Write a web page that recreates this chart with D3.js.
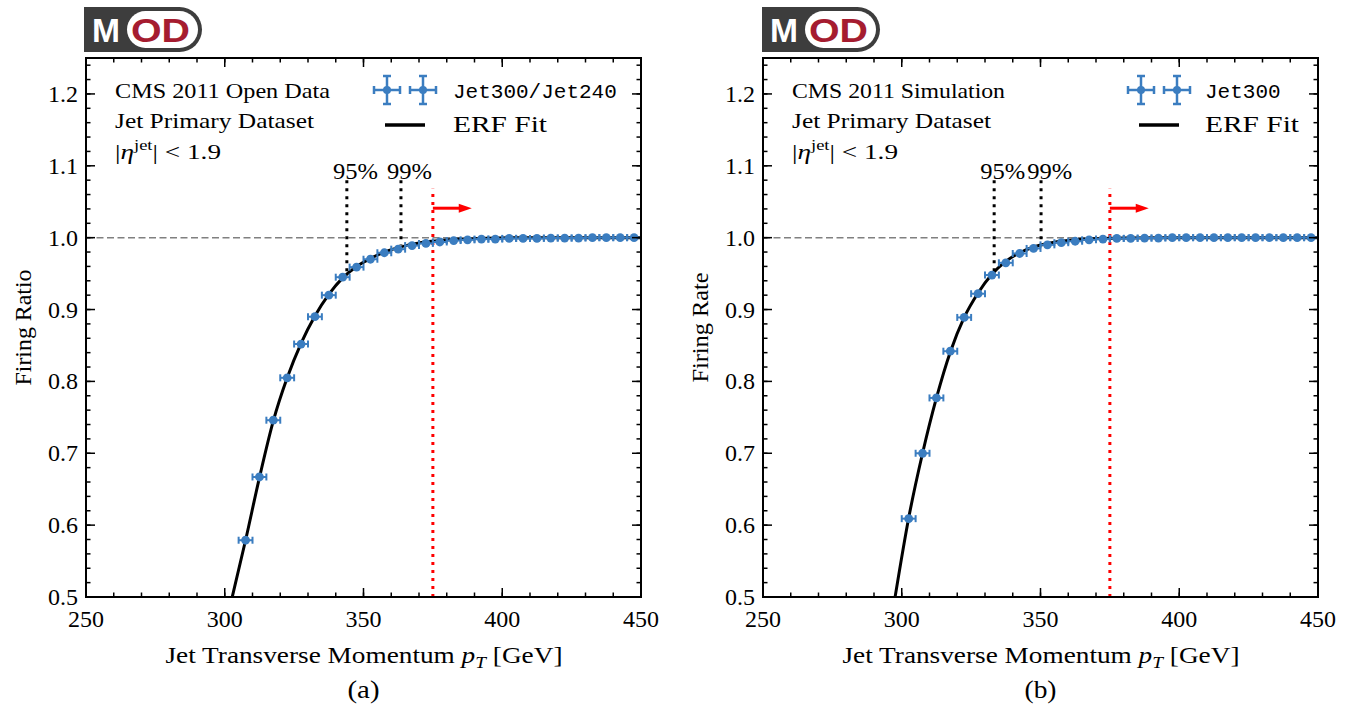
<!DOCTYPE html>
<html>
<head>
<meta charset="utf-8">
<script src="https://cdn.jsdelivr.net/npm/d3@7"></script>
<style>
  html, body { margin: 0; padding: 0; background: #fff; }
  svg { display: block; }
  text { font-family: "Liberation Serif", "Times New Roman", serif; fill: #000; }
</style>
</head>
<body>
<svg id="chart" width="1348" height="707"></svg>
<script>
// ---------------- data ----------------
const xTicks = [250, 300, 350, 400, 450];
const yTicks = [0.5, 0.6, 0.7, 0.8, 0.9, 1.0, 1.1, 1.2];
const xDomain = [250, 450];
const yDomain = [0.5, 1.25];
const binHalfWidth = 2.5;

// panel (a): Jet300/Jet240 in data
const binCentersA = [307.5, 312.5, 317.5, 322.5, 327.5, 332.5, 337.5, 342.5, 347.5, 352.5,
  357.5, 362.5, 367.5, 372.5, 377.5, 382.5, 387.5, 392.5, 397.5, 402.5,
  407.5, 412.5, 417.5, 422.5, 427.5, 432.5, 437.5, 442.5, 447.5];
const ratioA = [0.579, 0.667, 0.746, 0.805, 0.852, 0.890, 0.920, 0.945, 0.959, 0.970,
  0.979, 0.984, 0.989, 0.992, 0.994, 0.996, 0.997, 0.998, 0.998, 0.999,
  0.999, 0.999, 0.9995, 0.9995, 0.9995, 1.0, 1.0, 1.0, 1.0];
const fitXA = [302.7, 307.5, 312.5, 317.5, 322.5, 327.5, 332.5, 337.5, 342.5, 347.5, 352.5,
  357.5, 362.5, 367.5, 372.5, 377.5, 385, 395, 410, 450];
const fitYA = [0.5, 0.579, 0.666, 0.745, 0.805, 0.853, 0.891, 0.921, 0.944, 0.960, 0.971,
  0.980, 0.986, 0.991, 0.994, 0.996, 0.998, 0.9993, 1.0, 1.0];
const thresholdsA = [344.0, 363.5];

// panel (b): Jet300 in simulation
const binCentersB = [302.5, 307.5, 312.5, 317.5, 322.5, 327.5, 332.5, 337.5, 342.5, 347.5,
  352.5, 357.5, 362.5, 367.5, 372.5, 377.5, 382.5, 387.5, 392.5, 397.5,
  402.5, 407.5, 412.5, 417.5, 422.5, 427.5, 432.5, 437.5, 442.5, 447.5];
const rateB = [0.609, 0.700, 0.777, 0.842, 0.889, 0.922, 0.948, 0.965, 0.978, 0.985,
  0.990, 0.993, 0.995, 0.997, 0.998, 0.999, 0.999, 0.9995, 0.9995, 1.0,
  1.0, 1.0, 1.0, 1.0, 1.0, 1.0, 1.0, 1.0, 1.0, 1.0];
const fitXB = [297.6, 302.5, 307.5, 312.5, 317.5, 322.5, 327.5, 332.5, 337.5, 342.5, 347.5,
  352.5, 357.5, 362.5, 370, 380, 395, 450];
const fitYB = [0.5, 0.610, 0.700, 0.777, 0.841, 0.889, 0.923, 0.949, 0.967, 0.979, 0.987,
  0.992, 0.995, 0.997, 0.9985, 0.9995, 1.0, 1.0];
const thresholdsB = [333.3, 350.2];

const thresholdLabels = ["95%", "99%"];
const triggerCut = 375;
const arrowEnd = 389;

// ---------------- drawing ----------------
const svg = d3.select("#chart");
const BLUE = "#3b7dc0";
const RED = "#ff0000";

function fit(sel, len) {
  return sel.attr("textLength", len).attr("lengthAdjust", "spacingAndGlyphs");
}

function drawLogo(x0, y0) {
  const g = svg.append("g").attr("transform", `translate(${x0},${y0})`);
  const w = 118, h = 45, r = h / 2;
  g.append("path")
    .attr("d", `M0,0 H${w - r} A${r},${r} 0 0 1 ${w - r},${h} H0 Z`)
    .attr("fill", "#3d3d3d");
  const px = 43, py = 4, pw = 71, ph = 37, pr = ph / 2;
  g.append("rect").attr("x", px).attr("y", py).attr("width", pw).attr("height", ph)
    .attr("rx", pr).attr("ry", pr).attr("fill", "#fff");
  fit(g.append("text").attr("x", 8).attr("y", 35), 28)
    .style("font-family", "'Liberation Sans', Arial, sans-serif")
    .style("font-weight", "bold").style("font-size", "33px").style("fill", "#fff")
    .text("M");
  fit(g.append("text").attr("x", 47).attr("y", 35), 59)
    .style("font-family", "'Liberation Sans', Arial, sans-serif")
    .style("font-weight", "bold").style("font-size", "33px").style("fill", "#a51c30")
    .text("OD");
}

function drawPanel(cfg) {
  const left = cfg.left, right = cfg.left + 555, top = 58, bottom = 597;
  const x = d3.scaleLinear().domain(xDomain).range([left, right]);
  const y = d3.scaleLinear().domain(yDomain).range([bottom, top]);
  const g = svg.append("g");

  const clipId = "clip" + cfg.tag;
  svg.append("defs").append("clipPath").attr("id", clipId)
    .append("rect").attr("x", left).attr("y", top).attr("width", right - left).attr("height", bottom - top);

  const plot = g.append("g").attr("clip-path", `url(#${clipId})`);

  // dashed unity line
  plot.append("line")
    .attr("x1", left).attr("x2", right).attr("y1", y(1.0)).attr("y2", y(1.0))
    .attr("stroke", "#808080").attr("stroke-width", 1.5).attr("stroke-dasharray", "7,3.5");

  // threshold lines
  cfg.thresholds.forEach((t, i) => {
    plot.append("line")
      .attr("x1", x(t)).attr("x2", x(t))
      .attr("y1", y(1.08)).attr("y2", y(i === 0 ? 0.95 : 0.99))
      .attr("stroke", "#000").attr("stroke-width", 3).attr("stroke-dasharray", "3,5");
    fit(g.append("text")
      .attr("x", x(t - 5)).attr("y", y(1.082))
      .style("font-size", "23px"), 45)
      .text(thresholdLabels[i]);
  });

  // trigger cut line
  plot.append("line")
    .attr("x1", x(triggerCut)).attr("x2", x(triggerCut))
    .attr("y1", y(0.5)).attr("y2", y(1.068))
    .attr("stroke", RED).attr("stroke-width", 3).attr("stroke-dasharray", "3,5");
  // arrow
  const ay = y(1.041);
  const ax0 = x(triggerCut), ax1 = x(arrowEnd);
  plot.append("line").attr("x1", ax0).attr("x2", ax1 - 11).attr("y1", ay).attr("y2", ay)
    .attr("stroke", RED).attr("stroke-width", 3);
  plot.append("path")
    .attr("d", `M${ax1},${ay} L${ax1 - 13},${ay - 4.5} L${ax1 - 13},${ay + 4.5} Z`)
    .attr("fill", RED);

  // fit curve
  const fitPts = cfg.fitX.map((v, i) => [v, cfg.fitY[i]]);
  plot.append("path")
    .datum(fitPts)
    .attr("d", d3.line().x(d => x(d[0])).y(d => y(d[1])).curve(d3.curveMonotoneX))
    .attr("fill", "none").attr("stroke", "#000").attr("stroke-width", 3);

  // data points
  const pts = cfg.bins.map((v, i) => [v, cfg.vals[i]]);
  const pg = plot.append("g").selectAll("g").data(pts).join("g");
  pg.append("line")
    .attr("x1", d => x(d[0] - binHalfWidth)).attr("x2", d => x(d[0] + binHalfWidth))
    .attr("y1", d => y(d[1])).attr("y2", d => y(d[1]))
    .attr("stroke", BLUE).attr("stroke-width", 2);
  [-1, 1].forEach(s => {
    pg.append("line")
      .attr("x1", d => x(d[0] + s * binHalfWidth)).attr("x2", d => x(d[0] + s * binHalfWidth))
      .attr("y1", d => y(d[1]) - 3.5).attr("y2", d => y(d[1]) + 3.5)
      .attr("stroke", BLUE).attr("stroke-width", 2);
  });
  pg.append("circle")
    .attr("cx", d => x(d[0])).attr("cy", d => y(d[1])).attr("r", 4.4)
    .attr("fill", BLUE);

  // axes (ticks inward on all sides)
  const xMinor = d3.range(250, 451, 10);
  const yMinor = d3.range(0.5, 1.251, 0.02);
  const ax = g.append("g");
  const tickFmtY = d3.format(".1f");
  function ticksX(vals, len, ypos, dir) {
    ax.selectAll(null).data(vals).join("line")
      .attr("x1", d => x(d)).attr("x2", d => x(d))
      .attr("y1", ypos).attr("y2", ypos + dir * len)
      .attr("stroke", "#000").attr("stroke-width", 1.5);
  }
  function ticksY(vals, len, xpos, dir) {
    ax.selectAll(null).data(vals).join("line")
      .attr("y1", d => y(d)).attr("y2", d => y(d))
      .attr("x1", xpos).attr("x2", xpos + dir * len)
      .attr("stroke", "#000").attr("stroke-width", 1.5);
  }
  ticksX(xMinor, 4.5, bottom, -1); ticksX(xMinor, 4.5, top, 1);
  ticksX(xTicks, 9, bottom, -1); ticksX(xTicks, 9, top, 1);
  ticksY(yMinor, 4.5, left, 1); ticksY(yMinor, 4.5, right, -1);
  ticksY(yTicks, 9, left, 1); ticksY(yTicks, 9, right, -1);

  ax.append("rect").attr("x", left).attr("y", top).attr("width", right - left).attr("height", bottom - top)
    .attr("fill", "none").attr("stroke", "#000").attr("stroke-width", 2);

  ax.selectAll(null).data(xTicks).join("text")
    .attr("x", d => x(d)).attr("y", bottom + 30)
    .attr("text-anchor", "middle").style("font-size", "24px")
    .text(d => d);
  ax.selectAll(null).data(yTicks).join("text")
    .attr("x", left - 8).attr("y", d => y(d) + 8)
    .attr("text-anchor", "end").style("font-size", "24px")
    .text(d => tickFmtY(d));

  // axis labels
  const xl = fit(g.append("text").attr("x", (left + right) / 2 - 198).attr("y", bottom + 66)
    .style("font-size", "24px"), 397);
  xl.append("tspan").text("Jet Transverse Momentum ");
  xl.append("tspan").style("font-style", "italic").text("p");
  xl.append("tspan").style("font-style", "italic").style("font-size", "17px").attr("dy", 5).text("T");
  xl.append("tspan").attr("dy", -5).text(" [GeV]");

  fit(g.append("text")
    .attr("transform", `translate(${left - 55},${(top + bottom) / 2 + cfg.ylen / 2}) rotate(-90)`)
    .style("font-size", "24px"), cfg.ylen)
    .text(cfg.ylabel);

  fit(g.append("text").attr("x", (left + right) / 2 - 16).attr("y", 698)
    .style("font-size", "25px"), 32).text(cfg.sub);

  // annotation text
  const tx = left + 29;
  fit(g.append("text").attr("x", tx).attr("y", 98).style("font-size", "22px"), cfg.titleLen).text(cfg.title);
  fit(g.append("text").attr("x", tx).attr("y", 128).style("font-size", "22px"), 199).text("Jet Primary Dataset");
  const et = fit(g.append("text").attr("x", tx).attr("y", 159).style("font-size", "22px"), 106);
  et.append("tspan").text("|");
  et.append("tspan").style("font-style", "italic").text("η");
  et.append("tspan").style("font-size", "15px").attr("dy", -9).text("jet");
  et.append("tspan").attr("dy", 9).text("| < 1.9");

  // legend
  const lx1 = cfg.legX, lx2 = cfg.legX + 36, ly = 90;
  [lx1, lx2].forEach(cx => {
    const lg = g.append("g");
    lg.append("line").attr("x1", cx - 13).attr("x2", cx + 13).attr("y1", ly).attr("y2", ly)
      .attr("stroke", BLUE).attr("stroke-width", 2.5);
    lg.append("line").attr("x1", cx).attr("x2", cx).attr("y1", ly - 14).attr("y2", ly + 14)
      .attr("stroke", BLUE).attr("stroke-width", 2.5);
    [-1, 1].forEach(s => {
      lg.append("line").attr("x1", cx + s * 13).attr("x2", cx + s * 13).attr("y1", ly - 4).attr("y2", ly + 4)
        .attr("stroke", BLUE).attr("stroke-width", 2.5);
      lg.append("line").attr("y1", ly + s * 14).attr("y2", ly + s * 14).attr("x1", cx - 4).attr("x2", cx + 4)
        .attr("stroke", BLUE).attr("stroke-width", 2.5);
    });
    lg.append("circle").attr("cx", cx).attr("cy", ly).attr("r", 4).attr("fill", BLUE);
  });
  g.append("text").attr("x", cfg.legTextX).attr("y", 98)
    .style("font-family", "'Liberation Mono', 'DejaVu Sans Mono', monospace").style("font-size", "21px")
    .text(cfg.legLabel);
  g.append("line").attr("x1", lx1 - 2).attr("x2", lx2 + 2).attr("y1", 125).attr("y2", 125)
    .attr("stroke", "#000").attr("stroke-width", 3.5);
  fit(g.append("text").attr("x", cfg.legTextX).attr("y", 132).style("font-size", "24px"), 94).text("ERF Fit");
}

drawLogo(84, 7);
drawLogo(762, 7);

drawPanel({
  tag: "a", left: 86, bins: binCentersA, vals: ratioA, fitX: fitXA, fitY: fitYA,
  thresholds: thresholdsA, ylabel: "Firing Ratio", ylen: 116, sub: "(a)",
  title: "CMS 2011 Open Data", titleLen: 215, legLabel: "Jet300/Jet240", legX: 387, legTextX: 453
});
drawPanel({
  tag: "b", left: 763, bins: binCentersB, vals: rateB, fitX: fitXB, fitY: fitYB,
  thresholds: thresholdsB, ylabel: "Firing Rate", ylen: 110, sub: "(b)",
  title: "CMS 2011 Simulation", titleLen: 213, legLabel: "Jet300", legX: 1141, legTextX: 1205
});
</script>
</body>
</html>
